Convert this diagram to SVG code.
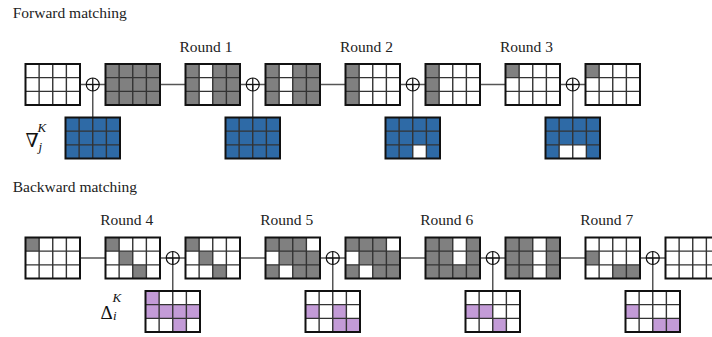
<svg xmlns="http://www.w3.org/2000/svg" xmlns:xlink="http://www.w3.org/1999/xlink" width="712" height="337" viewBox="0 0 712 337">
<style>
.g{fill:#808080}.w{fill:#ffffff}.b{fill:#2e6aa6}.p{fill:#c39bd7}
.conn line{stroke:#555;stroke-width:1.5}
.t{font-family:'Liberation Serif','Tinos','DejaVu Serif','Noto Serif',serif}
</style>
<defs>
<g id="frame">
<path d="M13.625 0V41M27.25 0V41M40.875 0V41M0 13.667H54.5M0 27.333H54.5" fill="none" stroke="#333" stroke-width="1.4"/>
<rect x="0" y="0" width="54.5" height="41" fill="none" stroke="#111" stroke-width="2"/>
</g>
<g id="xor" fill="none" stroke="#111" stroke-width="1.2">
<circle cx="0" cy="0" r="6.5" fill="none"/>
<path d="M-6.5 0H6.5M0 -6.5V6.5" fill="none"/>
</g>
</defs>

<g class="t" font-size="15.5" fill="#222">
<text x="12.7" y="17.5">Forward matching</text>
<text x="12.7" y="192">Backward matching</text>
<text x="206" y="51.5" text-anchor="middle">Round 1</text>
<text x="366.5" y="51.5" text-anchor="middle">Round 2</text>
<text x="526.5" y="51.5" text-anchor="middle">Round 3</text>
<text x="126.7" y="225" text-anchor="middle">Round 4</text>
<text x="286.7" y="225" text-anchor="middle">Round 5</text>
<text x="446.7" y="225" text-anchor="middle">Round 6</text>
<text x="606.7" y="225" text-anchor="middle">Round 7</text>
</g>

<g id="nabla-label" class="t" fill="#111">
<text x="25.5" y="147" font-size="19">∇</text>
<text x="37.5" y="132" font-size="13" font-style="italic">K</text>
<text x="38.5" y="151" font-size="13" font-style="italic">j</text>
</g>
<g id="delta-label" class="t" fill="#111">
<text x="100.5" y="319" font-size="19">Δ</text>
<text x="112.5" y="302" font-size="13" font-style="italic">K</text>
<text x="113" y="320" font-size="13" font-style="italic">i</text>
</g>

<g id="connectors" class="conn">
<line x1="80" y1="84.5" x2="105.5" y2="84.5"/>
<line x1="160" y1="84.5" x2="185.5" y2="84.5"/>
<line x1="240" y1="84.5" x2="265.5" y2="84.5"/>
<line x1="320" y1="84.5" x2="345.5" y2="84.5"/>
<line x1="400" y1="84.5" x2="425.5" y2="84.5"/>
<line x1="480" y1="84.5" x2="505.5" y2="84.5"/>
<line x1="560" y1="84.5" x2="585.5" y2="84.5"/>
<line x1="92.75" y1="84.5" x2="92.75" y2="117.5"/>
<line x1="252.75" y1="84.5" x2="252.75" y2="117.5"/>
<line x1="412.75" y1="84.5" x2="412.75" y2="117.5"/>
<line x1="572.75" y1="84.5" x2="572.75" y2="117.5"/>
<line x1="80" y1="258" x2="105.5" y2="258"/>
<line x1="160" y1="258" x2="185.5" y2="258"/>
<line x1="240" y1="258" x2="265.5" y2="258"/>
<line x1="320" y1="258" x2="345.5" y2="258"/>
<line x1="400" y1="258" x2="425.5" y2="258"/>
<line x1="480" y1="258" x2="505.5" y2="258"/>
<line x1="560" y1="258" x2="585.5" y2="258"/>
<line x1="640" y1="258" x2="665.5" y2="258"/>
<line x1="172.75" y1="258" x2="172.75" y2="291"/>
<line x1="332.75" y1="258" x2="332.75" y2="291"/>
<line x1="492.75" y1="258" x2="492.75" y2="291"/>
<line x1="652.75" y1="258" x2="652.75" y2="291"/>
</g>

<g id="xor-nodes">
<use xlink:href="#xor" href="#xor" x="92.75" y="84.5"/>
<use xlink:href="#xor" href="#xor" x="252.75" y="84.5"/>
<use xlink:href="#xor" href="#xor" x="412.75" y="84.5"/>
<use xlink:href="#xor" href="#xor" x="572.75" y="84.5"/>
<use xlink:href="#xor" href="#xor" x="172.75" y="258"/>
<use xlink:href="#xor" href="#xor" x="332.75" y="258"/>
<use xlink:href="#xor" href="#xor" x="492.75" y="258"/>
<use xlink:href="#xor" href="#xor" x="652.75" y="258"/>
</g>

<!-- Forward row -->
<g id="T0" transform="translate(25.5,64)"><rect class="w" width="54.5" height="41"/><use href="#frame"/></g>
<g id="K0" transform="translate(65.5,117.5)"><rect class="b" width="54.5" height="41"/><use href="#frame"/></g>
<g id="T1" transform="translate(105.5,64)"><rect class="g" width="54.5" height="41"/><use href="#frame"/></g>
<g id="T2" transform="translate(185.5,64)"><rect class="g" width="54.5" height="41"/><rect class="w" x="13.625" width="13.625" height="41"/><use href="#frame"/></g>
<g id="T3" transform="translate(265.5,64)"><rect class="g" width="54.5" height="41"/><rect class="w" x="13.625" width="13.625" height="41"/><use href="#frame"/></g>
<g id="K1" transform="translate(225.5,117.5)"><rect class="b" width="54.5" height="41"/><use href="#frame"/></g>
<g id="T4" transform="translate(345.5,64)"><rect class="w" width="54.5" height="41"/><rect class="g" width="13.625" height="41"/><use href="#frame"/></g>
<g id="T5" transform="translate(425.5,64)"><rect class="w" width="54.5" height="41"/><rect class="g" width="13.625" height="41"/><use href="#frame"/></g>
<g id="K2" transform="translate(385.5,117.5)"><rect class="b" width="54.5" height="41"/><rect class="w" x="27.25" y="27.333" width="13.625" height="13.667"/><use href="#frame"/></g>
<g id="T6" transform="translate(505.5,64)"><rect class="w" width="54.5" height="41"/><rect class="g" width="13.625" height="13.667"/><use href="#frame"/></g>
<g id="T7" transform="translate(585.5,64)"><rect class="w" width="54.5" height="41"/><rect class="g" width="13.625" height="13.667"/><use href="#frame"/></g>
<g id="K3" transform="translate(545.5,117.5)"><rect class="b" width="54.5" height="41"/><rect class="w" x="13.625" y="27.333" width="27.25" height="13.667"/><use href="#frame"/></g>

<!-- Backward row -->
<g id="D0" transform="translate(25.5,237.5)"><rect class="w" width="54.5" height="41"/><rect class="g" width="13.625" height="13.667"/><use href="#frame"/></g>
<g id="D1" transform="translate(105.5,237.5)"><rect class="w" width="54.5" height="41"/><rect class="g" width="13.625" height="13.667"/><rect class="g" x="13.625" y="13.667" width="13.625" height="13.667"/><rect class="g" x="27.25" y="27.333" width="13.625" height="13.667"/><use href="#frame"/></g>
<g id="P0" transform="translate(145.5,291)"><rect class="w" width="54.5" height="41"/><rect class="p" width="13.625" height="13.667"/><rect class="p" y="13.667" width="54.5" height="13.667"/><rect class="p" x="27.25" y="27.333" width="13.625" height="13.667"/><use href="#frame"/></g>
<g id="D2" transform="translate(185.5,237.5)"><rect class="w" width="54.5" height="41"/><rect class="g" width="13.625" height="13.667"/><rect class="g" x="13.625" y="13.667" width="13.625" height="13.667"/><rect class="g" x="27.25" y="27.333" width="13.625" height="13.667"/><use href="#frame"/></g>
<g id="D3" transform="translate(265.5,237.5)"><rect class="g" width="54.5" height="41"/><rect class="w" x="40.875" width="13.625" height="13.667"/><rect class="w" y="13.667" width="13.625" height="13.667"/><rect class="w" x="13.625" y="27.333" width="13.625" height="13.667"/><use href="#frame"/></g>
<g id="P1" transform="translate(305.5,291)"><rect class="w" width="54.5" height="41"/><rect class="p" y="13.667" width="13.625" height="13.667"/><rect class="p" x="27.25" y="13.667" width="13.625" height="13.667"/><rect class="p" x="27.25" y="27.333" width="27.25" height="13.667"/><use href="#frame"/></g>
<g id="D4" transform="translate(345.5,237.5)"><rect class="g" width="54.5" height="41"/><rect class="w" x="40.875" width="13.625" height="13.667"/><rect class="w" y="13.667" width="13.625" height="13.667"/><rect class="w" x="13.625" y="27.333" width="13.625" height="13.667"/><use href="#frame"/></g>
<g id="D5" transform="translate(425.5,237.5)"><rect class="g" width="54.5" height="41"/><rect class="w" x="27.25" width="13.625" height="27.333"/><use href="#frame"/></g>
<g id="P2" transform="translate(465.5,291)"><rect class="w" width="54.5" height="41"/><rect class="p" y="13.667" width="27.25" height="13.667"/><rect class="p" x="27.25" y="27.333" width="13.625" height="13.667"/><use href="#frame"/></g>
<g id="D6" transform="translate(505.5,237.5)"><rect class="g" width="54.5" height="41"/><rect class="w" x="27.25" width="13.625" height="41"/><use href="#frame"/></g>
<g id="D7" transform="translate(585.5,237.5)"><rect class="w" width="54.5" height="41"/><rect class="g" y="13.667" width="13.625" height="13.667"/><rect class="g" x="27.25" y="27.333" width="27.25" height="13.667"/><use href="#frame"/></g>
<g id="P3" transform="translate(625.5,291)"><rect class="w" width="54.5" height="41"/><rect class="p" y="13.667" width="13.625" height="13.667"/><rect class="p" x="27.25" y="27.333" width="27.25" height="13.667"/><use href="#frame"/></g>
<g id="D8" transform="translate(665.5,237.5)"><rect class="w" width="54.5" height="41"/><use href="#frame"/></g>
</svg>
